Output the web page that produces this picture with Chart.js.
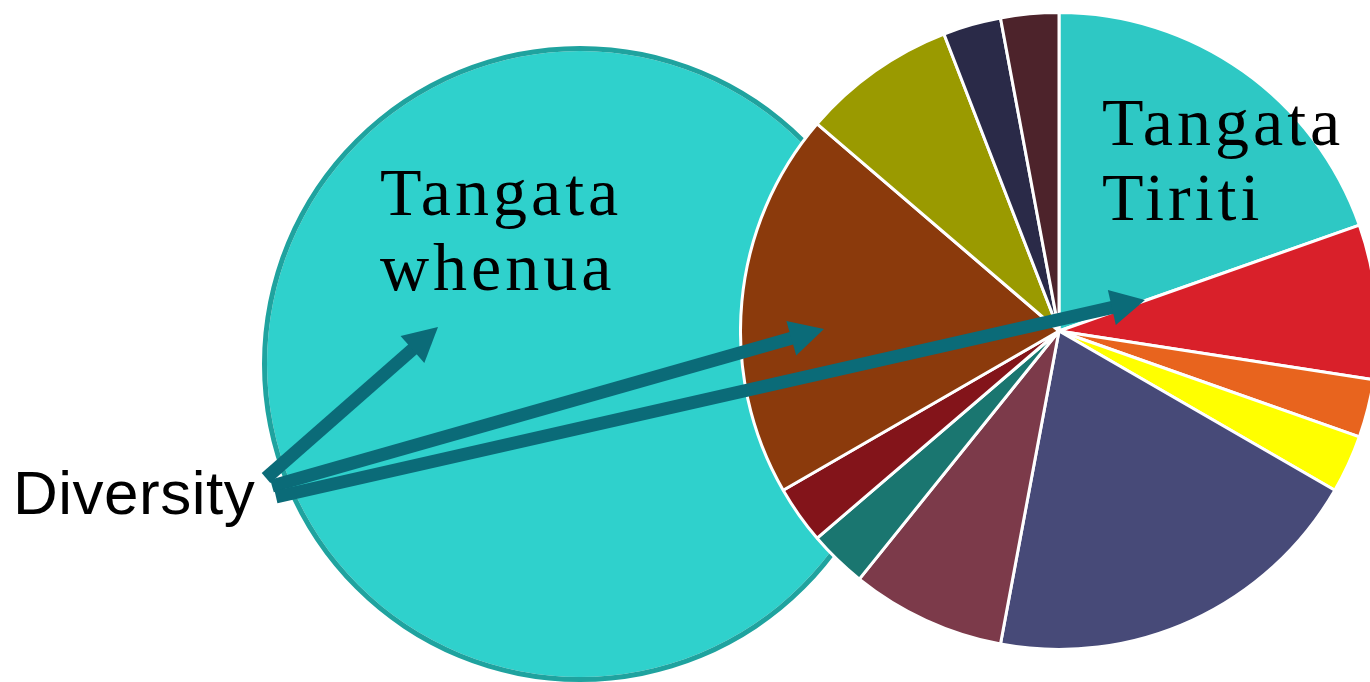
<!DOCTYPE html>
<html>
<head>
<meta charset="utf-8">
<script src="https://cdn.jsdelivr.net/npm/chart.js@4"></script>
<style>
  html, body { margin: 0; padding: 0; background: #fff; }
  body { width: 1370px; height: 682px; overflow: hidden; position: relative; }
  .box { position: absolute; }
  .label { position: absolute; color: #000; white-space: nowrap; }
  .serif { font-family: "Liberation Serif", serif; font-size: 68px; line-height: 75px; letter-spacing: 4px; }
  .sans { font-family: "Liberation Sans", Arial, sans-serif; font-size: 62px; line-height: 1; letter-spacing: 0.5px; }
</style>
</head>
<body>
<div class="box" id="whenuaBox" style="left:262px; top:46px; width:636px; height:636px; z-index:1;"><canvas id="whenua"></canvas></div>
<div class="box" id="tiritiBox" style="left:739px; top:11px; width:640px; height:640px; z-index:2;"><canvas id="tiriti"></canvas></div>
<div class="box" style="left:0; top:0; width:1370px; height:682px; z-index:3;"><canvas id="arrows"></canvas></div>

<div class="label serif" style="left:380px; top:155px; z-index:4;">Tangata<br>whenua</div>
<div class="label serif" style="left:1102px; top:85px; z-index:4;">Tangata<br>Tiriti</div>
<div class="label sans" style="left:13px; top:462px; z-index:4;">Diversity</div>

<script>
// data
var whenuaLabels = ["Tangata whenua"];
var whenuaValues = [100];

var tiritiLabels = ["Group 1", "Group 2", "Group 3", "Group 4", "Group 5", "Group 6",
                    "Group 7", "Group 8", "Group 9", "Group 10", "Group 11", "Group 12"];
var tiritiValues = [20, 8, 3, 3, 20, 8, 3, 3, 20, 8, 3, 3];
var tiritiColours = ["#2ec8c4", "#d9202a", "#e8641e", "#ffff00", "#474a78", "#7c3a4a",
                     "#1a7670", "#83141a", "#8b3a0c", "#9a9a00", "#2a2a48", "#4d232b"];

// arrows: tail -> tip, in page units
var arrowTails = [[266, 478], [272, 486], [276, 497]];
var arrowTips = [[438, 327], [824, 329], [1145, 300]];

var arrowColour = "#0b6b78";

Chart.defaults.animation = false;

// outer dataset is the thin rim, inner one the fill (no seam line this way)
new Chart(document.getElementById("whenua"), {
  type: "doughnut",
  data: {
    labels: whenuaLabels,
    datasets: [
      { data: whenuaValues, backgroundColor: ["#1fa39f"], borderWidth: 0, weight: 5 },
      { data: whenuaValues, backgroundColor: ["#2fd1cc"], borderWidth: 0, weight: 313 }
    ]
  },
  options: {
    responsive: true,
    maintainAspectRatio: false,
    cutout: 0,
    events: [],
    plugins: { legend: { display: false }, tooltip: { enabled: false } }
  }
});

new Chart(document.getElementById("tiriti"), {
  type: "pie",
  data: {
    labels: tiritiLabels,
    datasets: [{
      data: tiritiValues,
      backgroundColor: tiritiColours,
      borderColor: "#ffffff",
      borderWidth: 3
    }]
  },
  options: {
    responsive: true,
    maintainAspectRatio: false,
    events: [],
    plugins: { legend: { display: false }, tooltip: { enabled: false } }
  }
});

// draws shaft + head for each dataset, from the points the scales placed
var arrowHeads = {
  id: "arrowHeads",
  afterDatasetsDraw: function (chart) {
    var ctx = chart.ctx;
    chart.data.datasets.forEach(function (ds, i) {
      var pts = chart.getDatasetMeta(i).data;
      var a = pts[0], b = pts[1];
      var dx = b.x - a.x, dy = b.y - a.y;
      var len = Math.sqrt(dx * dx + dy * dy);
      var ux = dx / len, uy = dy / len;
      var headLen = 34, halfW = 18;
      var bx = b.x - ux * headLen, by = b.y - uy * headLen;
      ctx.save();
      ctx.strokeStyle = arrowColour;
      ctx.fillStyle = arrowColour;
      ctx.lineWidth = 13;
      ctx.lineCap = "butt";
      ctx.beginPath();
      ctx.moveTo(a.x, a.y);
      ctx.lineTo(bx + ux * 2, by + uy * 2);
      ctx.stroke();
      ctx.beginPath();
      ctx.moveTo(b.x, b.y);
      ctx.lineTo(bx - uy * halfW, by + ux * halfW);
      ctx.lineTo(bx + uy * halfW, by - ux * halfW);
      ctx.closePath();
      ctx.fill();
      ctx.restore();
    });
  }
};

var arrowSets = arrowTails.map(function (t, i) {
  return {
    data: [{ x: t[0], y: t[1] }, { x: arrowTips[i][0], y: arrowTips[i][1] }],
    showLine: false,
    pointRadius: 0
  };
});

new Chart(document.getElementById("arrows"), {
  type: "scatter",
  data: { datasets: arrowSets },
  options: {
    responsive: true,
    maintainAspectRatio: false,
    events: [],
    layout: { padding: 0 },
    scales: {
      x: { type: "linear", min: 0, max: 1370, display: false },
      y: { type: "linear", min: 0, max: 682, reverse: true, display: false }
    },
    plugins: { legend: { display: false }, tooltip: { enabled: false } }
  },
  plugins: [arrowHeads]
});
</script>
</body>
</html>
